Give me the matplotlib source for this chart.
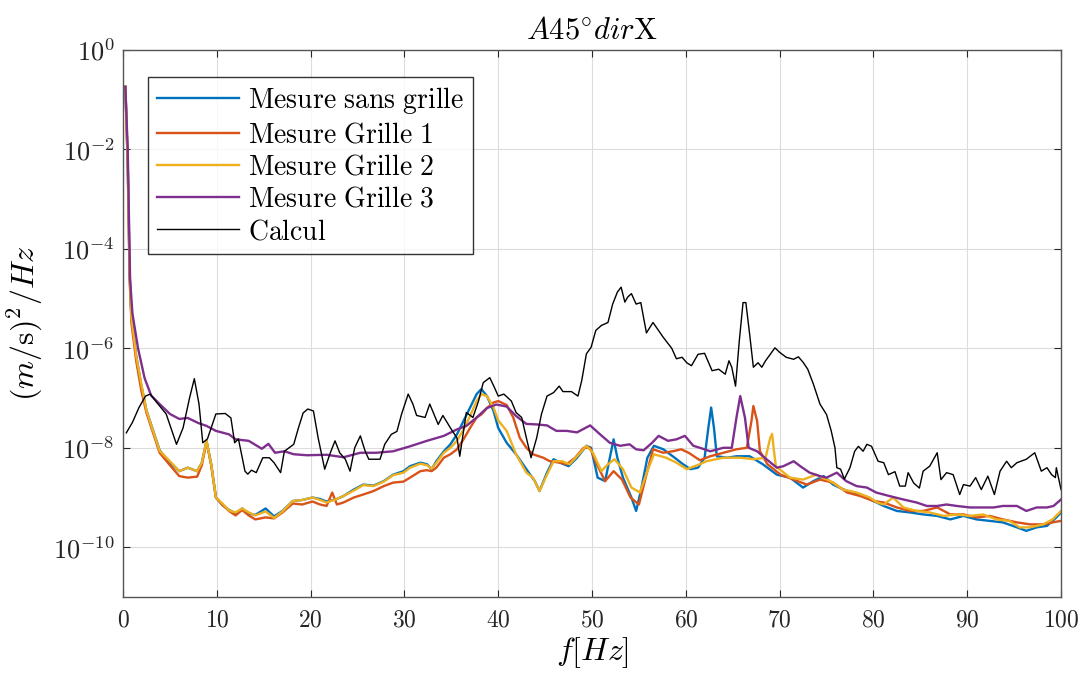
import numpy as np
import matplotlib
matplotlib.use("Agg")
import matplotlib.pyplot as plt
from matplotlib.ticker import FixedLocator, FuncFormatter

plt.rcParams['mathtext.fontset'] = 'cm'
plt.rcParams['font.family'] = 'serif'

# (frequency in Hz, log10 of PSD)
sans_grille = [(0.25, -0.74), (0.5, -2.3), (0.7, -4.5), (0.9, -5.4), (1.4, -6.15), (1.95, -6.75), (2.5, -7.25),
               (2.85, -7.45), (3.9, -8.05), (5.0, -8.3), (6.0, -8.47), (6.9, -8.4), (7.9, -8.47), (8.4, -8.3),
               (8.9, -7.86), (9.4, -8.33), (9.9, -9.0), (10.6, -9.15), (11.3, -9.25), (12.0, -9.32), (12.7, -9.22),
               (13.4, -9.32), (14.1, -9.35), (15.2, -9.22), (16.1, -9.38), (17.0, -9.27), (18.1, -9.07), (19.1, -9.05),
               (20.2, -9.0), (21.0, -9.03), (21.7, -9.08), (22.8, -9.03), (23.5, -8.97), (24.6, -8.84), (25.6, -8.74),
               (26.7, -8.76), (27.8, -8.67), (28.8, -8.54), (29.9, -8.47), (30.6, -8.37), (31.7, -8.3), (32.4, -8.33),
               (32.9, -8.43), (33.4, -8.27), (34.2, -8.07), (34.9, -7.93), (35.6, -7.73), (36.3, -7.46), (37.0, -7.19),
               (37.7, -6.92), (38.2, -6.82), (38.8, -6.96), (39.5, -7.26), (40.0, -7.6), (40.9, -7.9), (41.9, -8.13),
               (43.0, -8.43), (43.9, -8.67), (44.4, -8.87), (45.2, -8.5), (45.9, -8.23), (46.6, -8.3), (47.5, -8.37),
               (48.4, -8.2), (49.4, -7.96), (49.9, -8.0), (50.6, -8.6), (51.4, -8.67), (51.9, -8.2), (52.3, -7.83),
               (52.7, -8.2), (53.3, -8.6), (54.2, -9.0), (54.7, -9.27), (55.2, -8.87), (55.9, -8.2), (56.6, -7.96),
               (57.6, -8.03), (58.6, -8.17), (59.7, -8.33), (60.5, -8.43), (61.3, -8.4), (62.0, -8.2), (62.4, -7.6),
               (62.7, -7.19), (63.0, -7.6), (63.3, -8.17), (64.4, -8.2), (65.4, -8.17), (66.8, -8.17), (68.2, -8.33),
               (69.7, -8.54), (71.1, -8.6), (72.5, -8.8), (73.6, -8.67), (74.7, -8.57), (75.7, -8.74), (77.2, -8.87),
               (78.6, -8.94), (80.0, -9.07), (81.1, -9.17), (82.5, -9.27), (83.9, -9.3), (85.3, -9.34), (86.8, -9.37),
               (88.2, -9.44), (89.6, -9.37), (91.0, -9.44), (92.4, -9.47), (93.8, -9.5), (95.3, -9.6), (96.3, -9.67),
               (97.4, -9.6), (98.5, -9.57), (99.5, -9.4), (100, -9.3)]

grille_1 = [(0.25, -0.74), (0.5, -2.3), (0.7, -4.6), (0.9, -5.5), (1.4, -6.25), (1.95, -6.85), (2.5, -7.3),
            (2.85, -7.5), (3.9, -8.1), (5.0, -8.35), (6.0, -8.57), (6.9, -8.6), (7.9, -8.58), (8.4, -8.35),
            (8.9, -7.88), (9.4, -8.35), (9.9, -9.0), (10.6, -9.15), (11.3, -9.27), (12.0, -9.36), (12.7, -9.25),
            (13.4, -9.36), (14.1, -9.44), (15.2, -9.4), (16.1, -9.42), (17.0, -9.3), (18.1, -9.12), (19.1, -9.14),
            (20.2, -9.08), (21.0, -9.14), (21.7, -9.17), (22.3, -8.9), (22.8, -9.14), (23.5, -9.1), (24.6, -9.0),
            (25.6, -8.94), (26.7, -8.87), (27.8, -8.77), (28.8, -8.7), (29.9, -8.68), (30.6, -8.6), (31.7, -8.47),
            (32.4, -8.45), (32.9, -8.47), (33.4, -8.4), (34.2, -8.2), (34.9, -8.13), (35.6, -8.03), (36.3, -7.83),
            (37.0, -7.6), (37.7, -7.39), (38.2, -7.33), (38.8, -7.2), (39.5, -7.09), (40.0, -7.06), (40.9, -7.14),
            (41.6, -7.39), (42.3, -7.8), (43.0, -8.0), (43.7, -8.13), (44.8, -8.2), (45.5, -8.27), (46.6, -8.3),
            (47.3, -8.33), (48.2, -8.2), (49.1, -8.0), (49.8, -8.0), (50.5, -8.33), (51.4, -8.67), (52.3, -8.47),
            (53.2, -8.64), (54.1, -9.0), (55.0, -9.14), (55.8, -8.54), (56.5, -8.03), (57.6, -8.1), (58.6, -8.07),
            (59.5, -8.03), (60.3, -8.1), (61.5, -8.25), (62.6, -8.17), (64.0, -8.1), (65.4, -8.03), (66.5, -8.0),
            (67.0, -7.46), (67.2, -7.16), (67.6, -7.46), (67.9, -8.07), (68.7, -8.33), (70.1, -8.54), (71.5, -8.64),
            (72.9, -8.74), (74.3, -8.64), (75.7, -8.7), (77.2, -8.9), (78.6, -8.97), (80.0, -9.07), (81.1, -9.1),
            (82.5, -9.2), (83.9, -9.27), (85.3, -9.27), (86.8, -9.2), (88.2, -9.34), (89.6, -9.34), (91.0, -9.4),
            (92.4, -9.37), (93.8, -9.44), (95.3, -9.5), (96.7, -9.54), (98.1, -9.54), (99.1, -9.5), (100, -9.47)]

grille_2 = [(0.25, -0.74), (0.5, -2.2), (0.7, -4.4), (0.9, -5.4), (1.4, -6.15), (1.95, -6.72), (2.5, -7.25),
            (2.85, -7.46), (3.9, -8.06), (5.0, -8.27), (6.0, -8.47), (6.9, -8.4), (7.9, -8.47), (8.4, -8.3),
            (8.9, -7.86), (9.4, -8.33), (9.9, -9.0), (10.6, -9.12), (11.3, -9.26), (12.0, -9.3), (12.7, -9.22),
            (13.4, -9.3), (14.1, -9.36), (15.2, -9.28), (16.1, -9.41), (17.0, -9.28), (18.1, -9.07), (19.1, -9.05),
            (20.2, -9.0), (21.0, -9.05), (21.7, -9.1), (22.8, -9.03), (23.5, -8.97), (24.6, -8.86), (25.6, -8.75),
            (26.7, -8.77), (27.8, -8.68), (28.8, -8.55), (29.9, -8.5), (30.6, -8.4), (31.7, -8.32), (32.4, -8.35),
            (32.9, -8.42), (33.4, -8.3), (34.2, -8.1), (34.9, -8.0), (35.6, -7.86), (36.3, -7.63), (37.0, -7.36),
            (37.7, -7.06), (38.2, -6.92), (38.8, -6.96), (39.5, -7.19), (40.0, -7.45), (40.9, -7.66), (41.9, -8.13),
            (43.0, -8.5), (43.7, -8.6), (44.4, -8.87), (45.2, -8.54), (45.9, -8.27), (46.8, -8.27), (47.6, -8.33),
            (48.4, -8.17), (49.4, -7.96), (50.1, -8.1), (51.0, -8.47), (51.7, -8.33), (52.4, -8.23), (53.3, -8.43),
            (54.2, -8.8), (55.1, -8.9), (55.9, -8.47), (56.6, -8.13), (57.9, -8.2), (59.0, -8.3), (60.1, -8.43),
            (61.5, -8.33), (62.2, -8.27), (64.0, -8.2), (65.8, -8.2), (67.2, -8.23), (68.5, -8.2), (69.0, -7.8),
            (69.2, -7.72), (69.4, -8.07), (69.6, -8.37), (71.1, -8.6), (72.5, -8.64), (73.9, -8.54), (75.4, -8.67),
            (76.8, -8.84), (78.2, -8.9), (79.6, -9.0), (80.4, -9.1), (81.1, -9.14), (82.1, -9.0), (83.2, -9.2),
            (84.6, -9.27), (86.0, -9.3), (87.5, -9.37), (88.9, -9.34), (90.3, -9.37), (91.7, -9.34), (93.1, -9.44),
            (94.5, -9.47), (95.6, -9.6), (96.7, -9.6), (98.1, -9.54), (99.1, -9.44), (100, -9.27)]

grille_3 = [(0.25, -0.74), (0.5, -2.0), (0.75, -4.6), (1.0, -5.3), (1.6, -6.0), (2.3, -6.6), (3.0, -6.95),
            (3.9, -7.12), (5.0, -7.32), (6.0, -7.42), (6.9, -7.4), (8.0, -7.5), (8.9, -7.56), (9.9, -7.66),
            (11.3, -7.73), (12.0, -7.83), (13.4, -7.86), (14.8, -8.02), (15.5, -7.92), (16.2, -8.1), (17.2, -8.07),
            (18.2, -8.13), (19.6, -8.15), (21.7, -8.14), (23.5, -8.19), (25.3, -8.1), (27.0, -8.1), (28.8, -8.07),
            (30.6, -7.97), (32.4, -7.86), (34.2, -7.76), (35.6, -7.63), (36.6, -7.56), (37.7, -7.39), (38.8, -7.2),
            (39.8, -7.13), (40.9, -7.17), (41.9, -7.36), (43.0, -7.52), (44.1, -7.53), (45.2, -7.55), (46.2, -7.66),
            (47.3, -7.66), (48.4, -7.69), (49.8, -7.55), (50.8, -7.72), (51.9, -7.9), (53.0, -7.96), (54.0, -7.93),
            (54.7, -8.03), (55.5, -8.05), (56.4, -7.9), (57.1, -7.76), (58.1, -7.86), (59.0, -7.83), (59.9, -7.76),
            (60.8, -7.96), (61.5, -8.0), (62.6, -8.07), (64.0, -8.0), (64.9, -8.0), (65.4, -7.39), (65.8, -6.96),
            (66.3, -7.39), (66.7, -8.0), (67.6, -8.07), (68.6, -8.23), (69.7, -8.4), (70.4, -8.37), (71.5, -8.27),
            (72.2, -8.37), (73.2, -8.5), (74.3, -8.57), (75.0, -8.6), (76.1, -8.5), (77.1, -8.67), (78.2, -8.77),
            (79.3, -8.8), (80.3, -8.9), (81.7, -8.97), (83.2, -9.04), (84.6, -9.1), (85.7, -9.17), (86.8, -9.17),
            (87.8, -9.14), (88.9, -9.17), (90.3, -9.2), (91.7, -9.2), (92.8, -9.2), (93.8, -9.17), (95.3, -9.17),
            (96.3, -9.27), (97.4, -9.2), (98.5, -9.2), (99.2, -9.17), (100, -9.04)]

calcul = [(0.35, -7.7), (1.0, -7.49), (1.7, -7.19), (2.4, -6.96), (2.9, -6.92), (3.6, -7.09), (4.6, -7.32),
          (5.7, -7.93), (6.4, -7.6), (7.1, -6.99), (7.6, -6.61), (8.1, -7.12), (8.5, -7.9), (9.0, -7.82),
          (9.9, -7.32), (10.9, -7.31), (11.5, -7.4), (11.9, -7.9), (12.3, -7.82), (13.0, -8.47), (13.3, -8.53),
          (13.7, -8.45), (14.2, -8.5), (14.9, -8.2), (15.6, -8.2), (16.1, -8.3), (16.8, -8.5), (17.2, -8.07),
          (18.2, -7.93), (18.7, -7.6), (19.2, -7.3), (19.7, -7.22), (20.3, -7.26), (20.8, -7.8), (21.5, -8.43),
          (22.1, -8.1), (22.6, -7.86), (23.1, -8.1), (23.7, -8.23), (24.2, -8.47), (24.7, -8.0), (25.3, -7.76),
          (25.8, -8.06), (26.2, -8.23), (27.4, -8.23), (27.9, -7.93), (28.6, -7.73), (29.2, -7.67), (29.7, -7.32),
          (30.4, -6.92), (30.9, -7.12), (31.3, -7.35), (32.2, -7.39), (32.7, -7.12), (33.2, -7.35), (33.6, -7.53),
          (34.1, -7.35), (35.0, -7.63), (35.6, -7.8), (35.9, -8.17), (36.3, -7.67), (36.6, -7.29), (37.3, -7.39),
          (37.9, -7.06), (38.4, -6.69), (39.1, -6.59), (39.6, -6.79), (40.0, -6.96), (40.6, -6.92), (41.4, -7.06),
          (41.9, -7.29), (42.5, -7.39), (43.0, -7.8), (43.5, -8.2), (44.1, -7.8), (44.6, -7.33), (45.2, -6.96),
          (45.9, -6.89), (46.5, -6.76), (46.9, -6.87), (47.8, -6.87), (48.5, -6.96), (48.9, -6.65), (49.4, -6.11),
          (49.9, -5.98), (50.4, -5.64), (51.0, -5.54), (51.7, -5.48), (52.2, -5.11), (52.7, -4.87), (53.1, -4.77),
          (53.5, -5.07), (53.8, -4.97), (54.2, -4.9), (54.7, -5.11), (55.2, -5.08), (55.8, -5.69), (56.5, -5.48),
          (57.6, -5.78), (58.5, -6.0), (59.0, -6.21), (59.6, -6.18), (60.1, -6.29), (60.6, -6.35), (61.3, -6.12),
          (62.0, -6.1), (62.8, -6.45), (63.5, -6.42), (64.2, -6.52), (64.6, -6.25), (64.9, -6.38), (65.3, -6.76),
          (65.7, -5.85), (66.1, -5.08), (66.4, -5.08), (66.8, -5.71), (67.2, -6.38), (67.7, -6.29), (68.1, -6.38),
          (68.5, -6.25), (69.0, -6.12), (69.5, -5.99), (70.0, -6.08), (70.7, -6.18), (71.5, -6.22), (72.0, -6.17),
          (72.5, -6.28), (73.0, -6.42), (73.6, -6.72), (74.3, -7.12), (75.0, -7.33), (75.5, -7.66), (75.9, -8.0),
          (76.1, -8.4), (76.5, -8.43), (76.9, -8.63), (77.5, -8.4), (78.0, -8.07), (78.4, -7.97), (78.9, -8.07),
          (79.3, -7.93), (79.8, -7.97), (80.5, -8.27), (81.1, -8.3), (81.6, -8.54), (82.3, -8.48), (82.8, -8.77),
          (83.4, -8.77), (83.7, -8.5), (84.3, -8.71), (84.9, -8.81), (85.3, -8.47), (86.0, -8.37), (86.8, -8.1),
          (87.2, -8.64), (87.8, -8.5), (88.5, -8.54), (89.2, -8.94), (89.6, -8.74), (90.3, -8.77), (90.9, -8.6),
          (91.5, -8.84), (92.2, -8.57), (92.9, -8.94), (93.5, -8.47), (94.2, -8.27), (94.7, -8.4), (95.3, -8.3),
          (96.3, -8.23), (97.2, -8.1), (97.9, -8.47), (98.5, -8.4), (99.0, -8.54), (99.4, -8.6), (99.5, -8.4),
          (100, -8.84)]

labels = ['Mesure sans grille', 'Mesure Grille 1', 'Mesure Grille 2', 'Mesure Grille 3', 'Calcul']
colors = ['#0072BD', '#D95319', '#EDB120', '#7E2F8E', 'black']
x_ticks = [0, 10, 20, 30, 40, 50, 60, 70, 80, 90, 100]
y_exps = [0, -2, -4, -6, -8, -10]

fig = plt.figure(figsize=(10.84, 6.77), dpi=100)
ax = fig.add_axes([0.1135, 0.1182, 0.8653, 0.8080])

series = [sans_grille, grille_1, grille_2, grille_3, calcul]
for pts, lab, col in zip(series, labels, colors):
    arr = np.array(pts)
    lw = 1.0 if lab == 'Calcul' else 1.7
    ax.semilogy(arr[:, 0], 10.0 ** arr[:, 1], color=col, lw=lw,
                label=r'$\mathrm{' + lab.replace(' ', r'\ ') + '}$')

ax.set_xlim(0, 100)
ax.set_ylim(1e-11, 1e0)
ax.xaxis.set_major_locator(FixedLocator(x_ticks))
ax.yaxis.set_major_locator(FixedLocator([10.0 ** e for e in y_exps]))
ax.yaxis.set_minor_locator(FixedLocator([]))
ax.xaxis.set_major_formatter(FuncFormatter(lambda v, p: r'$%d$' % v))
ax.yaxis.set_major_formatter(FuncFormatter(lambda v, p: r'$10^{%d}$' % round(np.log10(v))))
ax.tick_params(direction='in', length=5, width=0.8, top=True, right=True,
               colors='#262626', pad=8)
ax.tick_params(axis='x', labelsize=17)
ax.tick_params(axis='y', labelsize=19, pad=6)
ax.grid(True, color='#dcdcdc', lw=0.8)
for s in ax.spines.values():
    s.set_color('#555555')
    s.set_linewidth(1.0)

ax.set_title(r'$A45^{\circ}dir\mathrm{X}$', fontsize=22, pad=8)
ax.set_xlabel(r'$f[Hz]$', fontsize=23, labelpad=3)
ax.set_ylabel(r'$(m/\mathrm{s})^2/Hz$', fontsize=23, labelpad=6)

leg = ax.legend(loc='upper left', bbox_to_anchor=(0.027, 0.951), fontsize=20, frameon=True,
                fancybox=False, handlelength=2.95, handletextpad=0.35, borderpad=0.3,
                labelspacing=0.19, borderaxespad=0)
leg.get_frame().set_edgecolor('black')
leg.get_frame().set_linewidth(1.0)

fig.savefig('out.png', dpi=100)
